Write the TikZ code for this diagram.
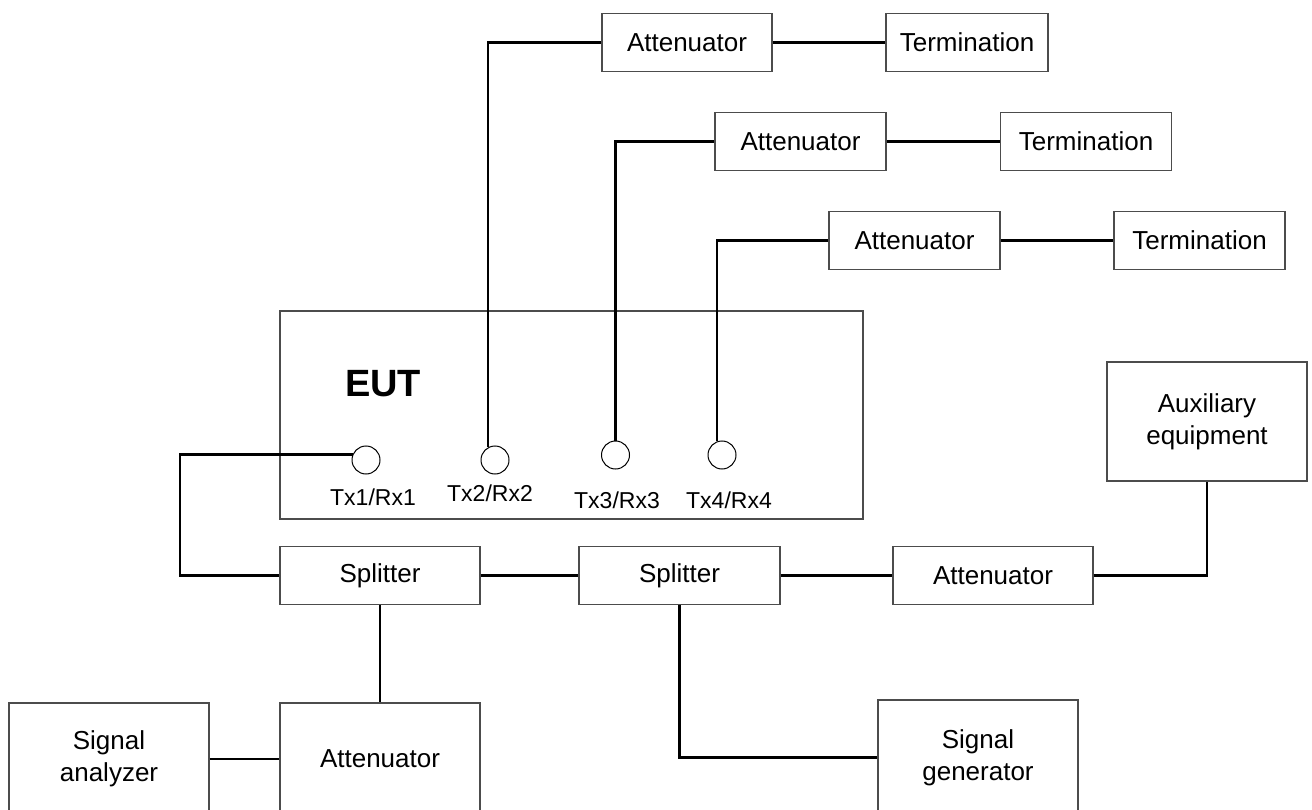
\documentclass[tikz,border=0pt]{standalone}
\usepackage{fontspec}
\setmainfont{Liberation Sans}
\usetikzlibrary{positioning}

\begin{document}
\begin{tikzpicture}[
  x=1pt, y=-1pt,
  font=\fontsize{26}{32}\selectfont,
  box/.style={
    rectangle,
    draw=black!70,
    line width=1.3pt,
    align=center,
    inner sep=0pt,
    minimum width=171pt,
    minimum height=58pt
  },
  wire/.style={
    line width=2.2pt
  },
  port/.style={
    circle,
    draw,
    line width=1pt,
    minimum size=28pt,
    inner sep=0pt
  },
  portlabel/.style={
    font=\fontsize{23}{27}\selectfont
  }
]

\useasboundingbox (0,0) rectangle (1312,810);
\clip (0,0) rectangle (1312,810);

% --- Equipment under test --------------------------------------------

\node[box, minimum width=583pt, minimum height=208pt] (eut) at (571.5,415) {};
\node[font=\fontsize{38}{42}\selectfont\bfseries] (euttitle) at (383,384) {EUT};

\node[port] (p1) at (366,460) {};
\node[port] (p2) at (495,460) {};
\node[port] (p3) at (615.5,455) {};
\node[port] (p4) at (722,455) {};

\node[portlabel] (l1) at (373,497) {Tx1/Rx1};
\node[portlabel] (l2) at (490,493) {Tx2/Rx2};
\node[portlabel] (l3) at (617,500) {Tx3/Rx3};
\node[portlabel] (l4) at (729,500) {Tx4/Rx4};

% --- Terminated ports ------------------------------------------------

\node[box, minimum width=170pt] (att1) at (687,42.5) {Attenuator};
\node[box, minimum width=162pt] (term1) at (967,42.5) {Termination};

\node[box] (att2) at (800.5,141.5) {Attenuator};
\node[box] (term2) at (1086,141.5) {Termination};

\node[box] (att3) at (914.5,240.5) {Attenuator};
\node[box] (term3) at (1199.5,240.5) {Termination};

% --- Measurement chain -----------------------------------------------

\node[box, minimum width=200pt] (spl1) at (380,575.5) {Splitter};
\node[box, minimum width=201pt] (spl2) at (679.5,575.5) {Splitter};
\node[box, minimum width=200pt] (att4) at (993,575.5) {Attenuator};
\node[box, minimum width=200pt, minimum height=119pt] (aux) at (1207,421.5) {Auxiliary\\equipment};

\node[box, minimum width=200pt, minimum height=112pt] (attb) at (380,759) {Attenuator};
\node[box, minimum width=200pt, minimum height=112pt] (sa) at (109,759) {Signal\\analyzer};
\node[box, minimum width=200pt, minimum height=115pt] (sg) at (978,757.5) {Signal\\generator};

\coordinate (loopx) at (180,0);

% --- Wiring ----------------------------------------------------------

\draw[wire] (p2.120) |- (att1.west);
\draw[wire] (p3.north) |- (att2.west);
\draw[wire] (p4.110) |- (att3.west);

\draw[wire] (att1) -- (term1);
\draw[wire] (att2) -- (term2);
\draw[wire] (att3) -- (term3);

% Tx1/Rx1 loops round the left side into the first splitter
\draw[wire] (p1.158) -- (p1.158 -| loopx) |- (spl1.west);

\draw[wire] (spl1) -- (spl2);
\draw[wire] (spl2) -- (att4);
\draw[wire] (att4.east) -| (aux.south);

\draw[wire] (spl1.south) -- (attb.north);
\draw[wire] (sa.east) -- (attb.west);
\draw[wire] (spl2.south) |- (sg.west);

\end{tikzpicture}
\end{document}
